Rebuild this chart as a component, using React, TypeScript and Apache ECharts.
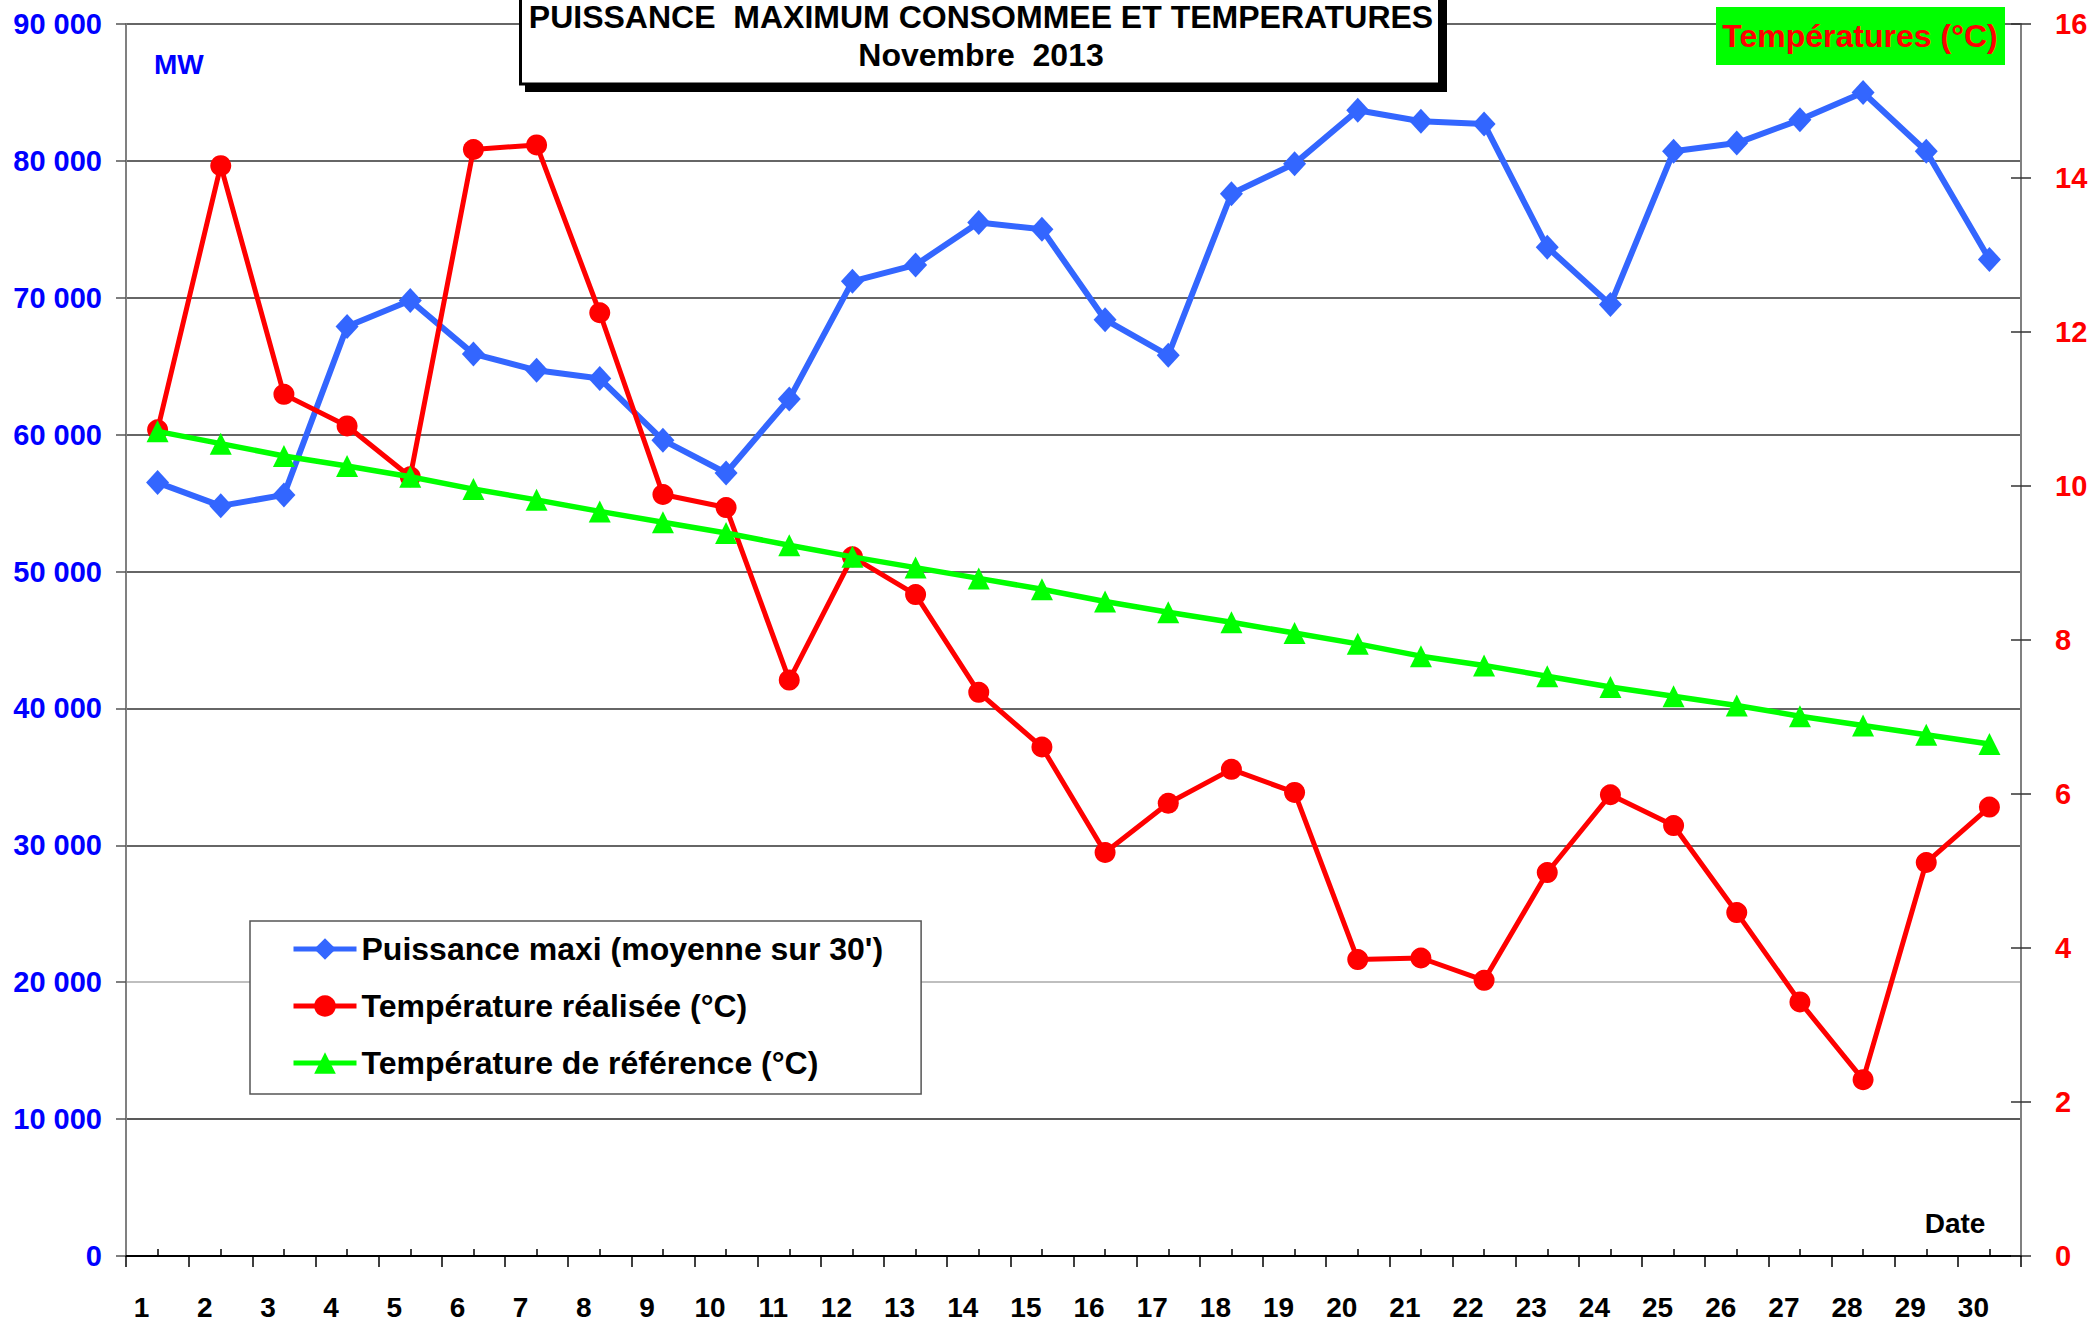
import React, { useEffect, useRef } from "react";
import * as echarts from "echarts";

const days = Array.from({ length: 30 }, (_, i) => String(i + 1));

const puissance = [
  56500, 54800, 55600, 67900, 69800, 65900, 64700, 64100, 59600, 57200,
  62600, 71200, 72400, 75500, 75000, 68400, 65800, 77600, 79800, 83700,
  82900, 82700, 73700, 69500, 80700, 81300, 83000, 85000, 80700, 72800,
];

const tempRealisee = [
  10.73, 14.16, 11.19, 10.78, 10.12, 14.37, 14.43, 12.25, 9.89, 9.72,
  7.48, 9.08, 8.59, 7.32, 6.61, 5.24, 5.88, 6.32, 6.02, 3.85,
  3.87, 3.58, 4.98, 5.99, 5.59, 4.46, 3.30, 2.29, 5.11, 5.83,
];

const tempReference = [
  10.71, 10.55, 10.39, 10.26, 10.12, 9.96, 9.82, 9.67, 9.53, 9.39,
  9.23, 9.08, 8.94, 8.80, 8.66, 8.50, 8.36, 8.23, 8.09, 7.95,
  7.79, 7.67, 7.53, 7.39, 7.27, 7.15, 7.01, 6.89, 6.77, 6.65,
];

const seriesNames = [
  "Puissance maxi (moyenne sur 30')",
  "Température réalisée (°C)",
  "Température de référence (°C)",
];

const titleLine1 = "PUISSANCE  MAXIMUM CONSOMMEE ET TEMPERATURES";
const titleLine2 = "Novembre  2013";
const rightAxisTitle = "Températures (°C)";
const leftUnit = "MW";
const xName = "Date";

const FONT = "'Liberation Sans', Arial, sans-serif";

const fmtThousands = (v: number) =>
  String(v).replace(/\B(?=(\d{3})+(?!\d))/g, " ");

export default function App() {
  const ref = useRef<HTMLDivElement>(null);

  useEffect(() => {
    if (!ref.current) return;
    const chart = echarts.init(ref.current, null, { renderer: "svg" });
    const option: any = {
      animation: false,
      backgroundColor: "#ffffff",
      textStyle: { fontFamily: FONT },
      grid: { left: 126, right: 75, top: 24, bottom: 66, containLabel: false },
      legend: {
        orient: "vertical",
        left: 250,
        top: 921,
        padding: [12, 38, 15, 41],
        itemGap: 25,
        itemWidth: 63,
        itemHeight: 27,
        backgroundColor: "#ffffff",
        borderColor: "#555555",
        borderWidth: 1.5,
        borderRadius: 0,
        lineStyle: { width: 5 },
        textStyle: {
          fontFamily: FONT,
          fontSize: 32,
          fontWeight: "bold",
          color: "#000000",
        },
        data: seriesNames,
      },
      xAxis: [
        {
          type: "category",
          data: days,
          position: "bottom",
          boundaryGap: true,
          axisLine: { show: true, lineStyle: { color: "#000000", width: 2 } },
          axisTick: {
            show: true,
            inside: false,
            length: 11,
            alignWithLabel: false,
            interval: 0,
            lineStyle: { color: "#000000", width: 1.5 },
          },
          axisLabel: {
            interval: 0,
            margin: 37,
            fontFamily: FONT,
            fontSize: 28,
            fontWeight: "bold",
            color: "#000000",
            padding: [0, 32, 0, 0],
          },
          splitLine: { show: false },
        },
        {
          type: "category",
          data: days,
          position: "bottom",
          boundaryGap: true,
          axisLine: { show: false },
          axisTick: {
            show: true,
            inside: true,
            length: 7,
            alignWithLabel: true,
            interval: 0,
            lineStyle: { color: "#000000", width: 1.5 },
          },
          axisLabel: { show: false },
          splitLine: { show: false },
        },
      ],
      yAxis: [
        {
          type: "value",
          position: "left",
          min: 0,
          max: 90000,
          interval: 10000,
          axisLine: { show: true, lineStyle: { color: "#808080", width: 2 } },
          axisTick: {
            show: true,
            inside: false,
            length: 10,
            lineStyle: { color: "#555555", width: 1.5 },
          },
          axisLabel: {
            margin: 24,
            fontFamily: FONT,
            fontSize: 29,
            fontWeight: "bold",
            color: "#0000ff",
            formatter: (v: number) => fmtThousands(v),
          },
          splitLine: {
            show: true,
            lineStyle: {
              width: 1.5,
              color: [
                "#000000",
                "#222222",
                "#aaaaaa",
                "#333333",
                "#333333",
                "#333333",
                "#333333",
                "#333333",
                "#333333",
                "#333333",
              ],
            },
          },
        },
        {
          type: "value",
          position: "right",
          min: 0,
          max: 16,
          interval: 2,
          axisLine: { show: true, lineStyle: { color: "#808080", width: 2 } },
          axisTick: {
            show: true,
            inside: false,
            length: 10,
            lineStyle: { color: "#333333", width: 1.5 },
          },
          axisLabel: {
            margin: 34,
            fontFamily: FONT,
            fontSize: 29,
            fontWeight: "bold",
            color: "#ff0000",
          },
          splitLine: { show: false },
        },
        {
          type: "value",
          position: "right",
          min: 0,
          max: 16,
          interval: 2,
          axisLine: { show: false },
          axisTick: {
            show: true,
            inside: true,
            length: 10,
            lineStyle: { color: "#333333", width: 1.5 },
          },
          axisLabel: { show: false },
          splitLine: { show: false },
        },
      ],
      series: [
        {
          name: seriesNames[0],
          type: "line",
          xAxisIndex: 0,
          yAxisIndex: 0,
          data: puissance,
          symbol: "diamond",
          symbolSize: [23, 25],
          lineStyle: { color: "#3366ff", width: 6 },
          itemStyle: { color: "#3366ff" },
          z: 3,
        },
        {
          name: seriesNames[1],
          type: "line",
          xAxisIndex: 0,
          yAxisIndex: 1,
          data: tempRealisee,
          symbol: "circle",
          symbolSize: 21,
          lineStyle: { color: "#ff0000", width: 5 },
          itemStyle: { color: "#ff0000" },
          z: 4,
        },
        {
          name: seriesNames[2],
          type: "line",
          xAxisIndex: 0,
          yAxisIndex: 1,
          data: tempReference,
          symbol: "triangle",
          symbolSize: 22,
          lineStyle: { color: "#00ff00", width: 5.5 },
          itemStyle: { color: "#00ff00" },
          z: 5,
        },
      ],
      graphic: [
        {
          type: "rect",
          z: 100,
          shape: { x: 525, y: -6, width: 922, height: 98 },
          style: { fill: "#000000" },
        },
        {
          type: "rect",
          z: 101,
          shape: { x: 520.5, y: -12, width: 919, height: 96 },
          style: { fill: "#ffffff", stroke: "#000000", lineWidth: 3 },
        },
        {
          type: "text",
          z: 102,
          x: 981,
          y: 17,
          style: {
            text: titleLine1,
            fontFamily: FONT,
            fontSize: 32,
            fontWeight: "bold",
            fill: "#000000",
            align: "center",
            verticalAlign: "middle",
          },
        },
        {
          type: "text",
          z: 102,
          x: 981,
          y: 55,
          style: {
            text: titleLine2,
            fontFamily: FONT,
            fontSize: 32,
            fontWeight: "bold",
            fill: "#000000",
            align: "center",
            verticalAlign: "middle",
          },
        },
        {
          type: "rect",
          z: 100,
          shape: { x: 1716, y: 7, width: 289, height: 58 },
          style: { fill: "#00ff00" },
        },
        {
          type: "text",
          z: 101,
          x: 1860,
          y: 36,
          style: {
            text: rightAxisTitle,
            fontFamily: FONT,
            fontSize: 32,
            fontWeight: "bold",
            fill: "#ff0000",
            align: "center",
            verticalAlign: "middle",
          },
        },
        {
          type: "text",
          z: 101,
          x: 154,
          y: 64,
          style: {
            text: leftUnit,
            fontFamily: FONT,
            fontSize: 28,
            fontWeight: "bold",
            fill: "#0000ff",
            align: "left",
            verticalAlign: "middle",
          },
        },
        {
          type: "text",
          z: 101,
          x: 1955,
          y: 1223,
          style: {
            text: xName,
            fontFamily: FONT,
            fontSize: 28,
            fontWeight: "bold",
            fill: "#000000",
            align: "center",
            verticalAlign: "middle",
          },
        },
      ],
    };
    chart.setOption(option);
    return () => chart.dispose();
  }, []);

  return (
    <div
      ref={ref}
      style={{
        position: "fixed",
        left: 0,
        top: 0,
        width: 2096,
        height: 1322,
        background: "#ffffff",
      }}
    />
  );
}
